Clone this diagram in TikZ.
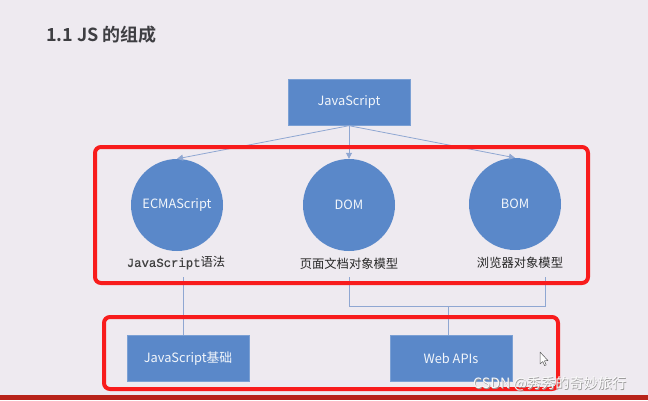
\documentclass[tikz,border=0pt]{standalone}
\usepackage{fontspec}
\setmainfont{Noto Sans CJK SC}
\newfontfamily\cjkbold{Noto Sans CJK SC Bold}
\newfontfamily\monob{Liberation Mono}[FakeBold=0.6]
\usetikzlibrary{arrows.meta}
\definecolor{bg}{HTML}{EEEAF0}
\definecolor{blu}{HTML}{5A88C9}
\definecolor{lnk}{HTML}{8FA7D2}
\definecolor{hl}{HTML}{F81C1C}
\definecolor{bar}{HTML}{B8231A}
\definecolor{ttl}{HTML}{3E3E42}
\tikzset{
  boxnode/.style={fill=blu, draw=blu!80!white, minimum width=122pt, minimum height=46pt, inner sep=0pt, text=white!92!blu, font=\fontsize{12.8}{14}\selectfont},
  circnode/.style={circle, fill=blu, minimum size=92pt, inner sep=0pt, text=white!92!blu, font=\fontsize{12.8}{14}\selectfont},
  labnode/.style={text=black!85, font=\fontsize{12.3}{14}\selectfont, inner sep=0pt},
  conn/.style={draw=lnk, line width=0.8pt},
  arr/.style={conn, -{Triangle[length=6pt, width=6pt]}},
  hlbox/.style={draw=hl, line width=4pt, rounded corners=6pt},
  wmnode/.style={anchor=west, font=\fontsize{14.2}{16}\selectfont, inner sep=0pt}
}
\begin{document}
\begin{tikzpicture}[x=1pt, y=-1pt]
\fill[bg] (0,0) rectangle (648,400);
\useasboundingbox (0,0) rectangle (648,400);
\fill[bar] (0,395) rectangle (648,400);
% title
\node[anchor=west, text=ttl, font=\cjkbold\fontsize{18}{20}\selectfont, inner sep=0pt] (title) at (46,35) {1.1 JS 的组成};
% top box
\node[boxnode] (js) at (349,102.5) {JavaScript};
% circles
\node[circnode] (ecma) at (177,205) {ECMAScript};
\node[circnode] (dom) at (349,205) {DOM};
\node[circnode] (bom) at (515,204) {BOM};
% labels
\node[labnode] (l1) at (176,263) {{\monob\color{black!75}\fontsize{12.3}{14}\selectfont JavaScript}语法};
\node[labnode] (l2) at (349,264) {页面文档对象模型};
\node[labnode] (l3) at (520,263) {浏览器对象模型};
% arrows
\draw[arr] (js.south) -- (ecma.north);
\draw[arr] (js.south) -- (dom.north);
\draw[arr] (js.south) -- (bom.north);
% bottom boxes
\node[boxnode] (jsb) at (188,358.5) {JavaScript基础};
\node[boxnode] (web) at (451,358.5) {Web APIs};
% connectors
\coordinate (t1) at (183,277);
\coordinate (t2) at (349,277);
\coordinate (t3) at (545,277);
\coordinate (b2) at (349,306);
\coordinate (b3) at (545,306);
\coordinate (m) at (448,306);
\draw[conn] (t1) -- (t1 |- jsb.north);
\draw[conn] (t2) -- (b2) -- (b3) -- (t3);
\draw[conn] (m) -- (m |- web.north);
% highlight boxes
\draw[hlbox] (95,147) rectangle (588,283);
\draw[hlbox] (104,317) rectangle (558,389);
% cursor
\draw[fill=white, draw=gray!70!black, line width=0.5pt, line join=round] (540,352) -- (540,364) -- (542.8,361.5) -- (544.6,365.6) -- (546.2,364.9) -- (544.4,360.8) -- (548,360.6) -- cycle;
% watermark
\node[wmnode, text=gray!80] (wm0) at (473.7,384.7) {CSDN @秀秀的奇妙旅行};
\node[wmnode, text=white!96!gray] (wm) at (473,384) {CSDN @秀秀的奇妙旅行};
\end{tikzpicture}
\end{document}
